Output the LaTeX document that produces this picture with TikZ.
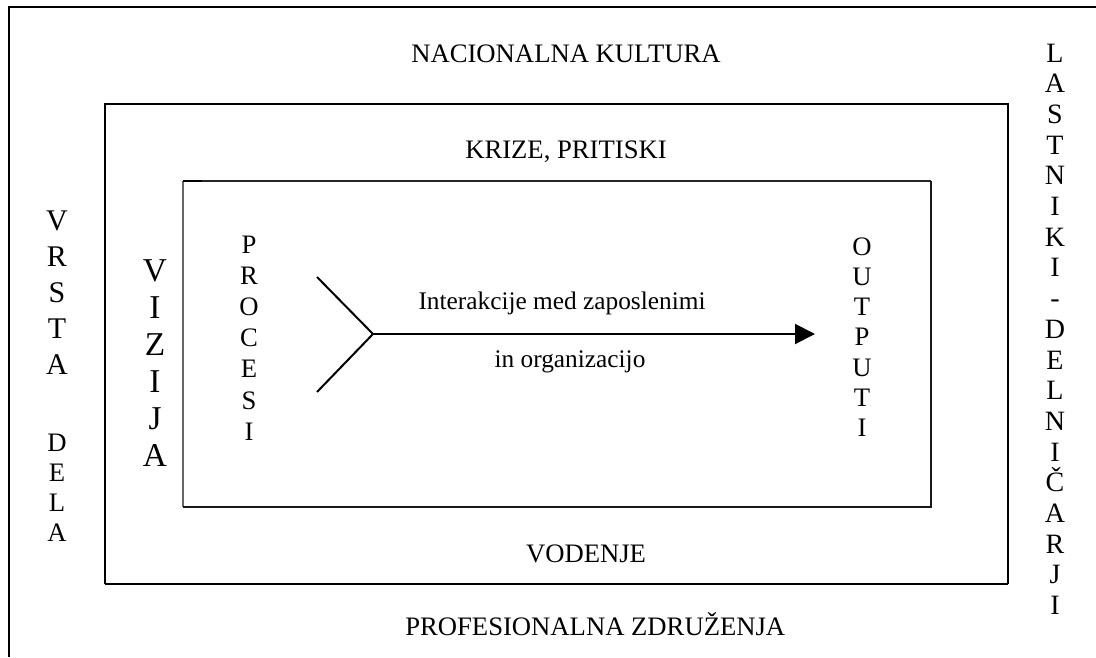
\documentclass[tikz,border=0pt]{standalone}
\usepackage{fontspec}
\setmainfont{Liberation Serif}
\usetikzlibrary{arrows.meta}
\begin{document}
\begin{tikzpicture}[x=0.75pt,y=-0.75pt,
  thickframe/.style={line width=1.9pt, black},
  lbl/.style={inner sep=0pt, anchor=base, font=\fontsize{20}{24}\selectfont},
  bigl/.style={lbl, font=\fontsize{22.5}{27}\selectfont},
  hugel/.style={lbl, font=\fontsize{25}{30}\selectfont},
  flow/.style={line width=1.5pt, black}]
\useasboundingbox (0,0) rectangle (1096,657);
% outer frame (only top and left visible)
\draw[thickframe] (9,657) -- (9,7) -- (1096,7);
% middle box
\draw[thickframe] (105,584) -- (105,104) -- (1008,104) -- (1008,584);
\draw[line width=1.3pt] (105,584) -- (1008,584);
\draw[line width=2pt] (105,584) -- (220,584);
\draw[line width=2pt] (952,584) -- (1008,584);
% inner box
\draw[line width=0.8pt, black!60] (183,181) -- (183,507);
\draw[line width=1pt, black!85] (183,181) -- (931,181);
\draw[line width=1.5pt, black!90] (931,181) -- (931,507) -- (183,507);
\draw[line width=1.6pt] (183,181) -- (202,181);
% horizontal labels
\node[lbl] (nk) at (566,62) {NACIONALNA KULTURA};
\node[lbl] (kp) at (566,158) {KRIZE, PRITISKI};
\node[lbl] (vo) at (586,562) {VODENJE};
\node[lbl, anchor=base west] (pz) at (405,635) {PROFESIONALNA ZDRUŽENJA};
\node[lbl, font=\fontsize{19}{23}\selectfont] (int1) at (562,309) {Interakcije med zaposlenimi};
\node[lbl, font=\fontsize{19}{23}\selectfont] (int2) at (570,367) {in organizacijo};
% vertical labels
\foreach \c [count=\i from 0] in {V,R,S,T,A}
  \node[bigl] (vr\i) at (57,230+36*\i) {\c};
\foreach \c [count=\i from 0] in {D,E,L,A}
  \node[lbl] (de\i) at (57,451+30*\i) {\c};
\foreach \c [count=\i from 0] in {V,I,Z,I,J,A}
  \node[hugel] (vi\i) at (155,281+37*\i) {\c};
\foreach \c [count=\i from 0] in {P,R,O,C,E,S,I}
  \node[lbl] (pr\i) at (249,253+31.2*\i) {\c};
\foreach \c [count=\i from 0] in {O,U,T,P,U,T,I}
  \node[lbl] (ou\i) at (862,255+30.3*\i) {\c};
\foreach \c [count=\i from 0] in {L,A,S,T,N,I,K,I,-,D,E,L,N,I,Č,A,R,J,I}
  \node[lbl, font=\fontsize{21}{25}\selectfont] (la\i) at (1055,62+30.7*\i) {\c};
% fork arrow
\coordinate (fork) at (373,334);
\coordinate (armup) at (317,277);
\coordinate (armdn) at (317,392);
\coordinate (tip) at (815,334);
\draw[flow] (armup) -- (fork) -- (armdn);
\draw[flow, -{Triangle[length=15pt,width=15pt]}] (fork) -- (tip);
\end{tikzpicture}
\end{document}
